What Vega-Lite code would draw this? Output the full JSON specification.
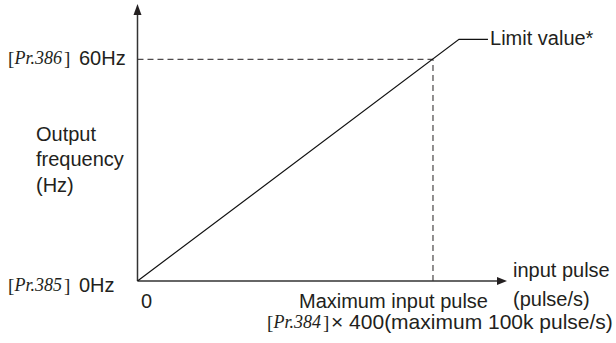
{
  "$schema": "https://vega.github.io/schema/vega-lite/v6.json",
  "width": 616,
  "height": 343,
  "autosize": {"type": "fit", "contains": "padding"},
  "padding": 0,
  "background": "white",
  "config": {"view": {"stroke": null}},
  "encoding": {
    "x": {"field": "x", "type": "quantitative", "scale": {"domain": [-46.53, 161.93], "nice": false, "zero": false}, "axis": null},
    "y": {"field": "y", "type": "quantitative", "scale": {"domain": [-16.78, 76.05], "nice": false, "zero": false}, "axis": null}
  },
  "layer": [
    {
      "data": {"values": [
        {"x": 0, "y": 60, "x2": 100, "y2": 60},
        {"x": 100, "y": 0, "x2": 100, "y2": 60}
      ]},
      "mark": {"type": "rule", "strokeDash": [6, 4], "strokeWidth": 1, "color": "#231f20"},
      "encoding": {"x2": {"field": "x2"}, "y2": {"field": "y2"}}
    },
    {
      "data": {"values": [
        {"x": 0, "y": 0, "x2": 0, "y2": 72.5},
        {"x": 0, "y": 0, "x2": 121.7, "y2": 0}
      ]},
      "mark": {"type": "rule", "strokeWidth": 1.5, "color": "#333333"},
      "encoding": {"x2": {"field": "x2"}, "y2": {"field": "y2"}}
    },
    {
      "data": {"values": [{"x": 0, "y": 73.48}]},
      "mark": {"type": "point", "shape": "M0,-1L0.727,1L-0.727,1Z", "size": 121, "filled": true, "opacity": 1, "color": "#231f20", "strokeWidth": 0}
    },
    {
      "data": {"values": [{"x": 123.35, "y": 0}]},
      "mark": {"type": "point", "shape": "M1,0L-1,0.8L-1,-0.8Z", "size": 100, "filled": true, "opacity": 1, "color": "#231f20", "strokeWidth": 0}
    },
    {
      "data": {"values": [
        {"x": 0, "y": 0, "o": 0},
        {"x": 108.8, "y": 65.41, "o": 1},
        {"x": 118.6, "y": 65.41, "o": 2}
      ]},
      "mark": {"type": "line", "color": "#111111", "strokeWidth": 1.2},
      "encoding": {"order": {"field": "o", "type": "quantitative"}}
    },
    {
      "data": {"values": [
        {"x": 119.3, "y": 65.41, "label": "Limit value*"},
        {"x": -19.8, "y": 60, "label": "60Hz"},
        {"x": -19.8, "y": -1.22, "label": "0Hz"},
        {"x": 1.18, "y": -5.68, "label": "0"},
        {"x": 54.65, "y": -5.68, "label": "Maximum input pulse"},
        {"x": 127.07, "y": 2.71, "label": "input pulse"},
        {"x": 127.07, "y": -5.14, "label": "(pulse/s)"},
        {"x": -34.35, "y": 39.51, "label": "Output"},
        {"x": -34.35, "y": 32.75, "label": "frequency"},
        {"x": -34.35, "y": 25.71, "label": "(Hz)"}
      ]},
      "mark": {"type": "text", "align": "left", "baseline": "middle", "font": "Liberation Sans", "fontSize": 20, "color": "#231f20"},
      "encoding": {"text": {"field": "label"}}
    },
    {
      "data": {"values": [
        {"x": 65.48, "y": -11.5, "label": "× 400(maximum 100k pulse/s)"}
      ]},
      "mark": {"type": "text", "align": "left", "baseline": "middle", "font": "Liberation Sans", "fontSize": 21, "color": "#231f20"},
      "encoding": {"text": {"field": "label"}}
    },
    {
      "data": {"values": [
        {"x": -43.82, "y": 60, "label": "["},
        {"x": -24.87, "y": 60, "label": "]"},
        {"x": -43.82, "y": -1.22, "label": "["},
        {"x": -24.87, "y": -1.22, "label": "]"},
        {"x": 43.82, "y": -11.5, "label": "["},
        {"x": 62.77, "y": -11.5, "label": "]"}
      ]},
      "mark": {"type": "text", "align": "left", "baseline": "middle", "font": "Liberation Serif", "fontSize": 19, "color": "#231f20"},
      "encoding": {"text": {"field": "label"}}
    },
    {
      "data": {"values": [
        {"x": -41.62, "y": 60, "label": "Pr.386"},
        {"x": -41.62, "y": -1.22, "label": "Pr.385"},
        {"x": 46.02, "y": -11.5, "label": "Pr.384"}
      ]},
      "mark": {"type": "text", "align": "left", "baseline": "middle", "font": "Liberation Serif", "fontStyle": "italic", "fontSize": 18, "color": "#231f20"},
      "encoding": {"text": {"field": "label"}}
    }
  ]
}
